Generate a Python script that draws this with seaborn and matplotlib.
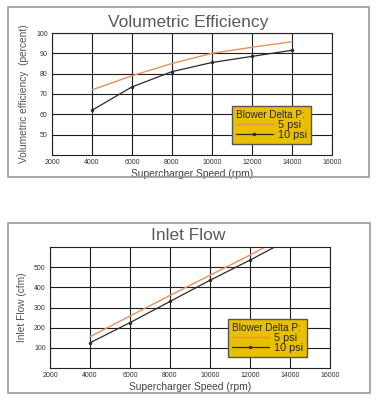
import matplotlib
matplotlib.use("Agg")
import matplotlib.pyplot as plt
import seaborn as sns
import pandas as pd
from matplotlib.lines import Line2D
from matplotlib.patches import Rectangle

# ---- data ----
speed = [4000, 6000, 8000, 10000, 12000, 14000]
ve_5psi = [72, 79, 85, 90, 93, 95.7]
ve_10psi = [62, 73.5, 81, 85.5, 88.5, 91.5]
flow_5psi = [155, 258, 360, 460, 560, 665]
flow_10psi = [125, 225, 330, 435, 535, 640]
x_ticks = [2000, 4000, 6000, 8000, 10000, 12000, 14000, 16000]
ve_ticks = [50, 60, 70, 80, 90, 100]
flow_ticks = [100, 200, 300, 400, 500]
series_labels = ["5 psi", "10 psi"]

sns.set_style("white")
plt.rcParams['font.family'] = ['Liberation Sans', 'DejaVu Sans']

W, H = 382, 400
fig = plt.figure(figsize=(W / 100, H / 100), dpi=100)

c5 = "#e8905e"
c10 = "#2a2a2a"
gold = "#e8c000"

def px_rect(l, t, r, b):
    return [l / W, 1 - b / H, (r - l) / W, (b - t) / H]

def frame(l, t, r, b):
    fig.patches.append(Rectangle((l / W, 1 - b / H), (r - l) / W, (b - t) / H,
                                 transform=fig.transFigure, fill=False,
                                 edgecolor="#9a9a9a", linewidth=1.2))

def make_panel(rect, y5, y10, ylim, yticks, title, ylabel, title_y, leg_anchor):
    ax = fig.add_axes(rect)
    df = pd.DataFrame({"speed": speed * 2,
                       "value": y5 + y10,
                       "series": [series_labels[0]] * len(speed) + [series_labels[1]] * len(speed)})
    sns.lineplot(data=df[df.series == "5 psi"], x="speed", y="value", ax=ax,
                 color=c5, linewidth=1.0, legend=False)
    sns.lineplot(data=df[df.series == "10 psi"], x="speed", y="value", ax=ax,
                 color=c10, linewidth=0.9, marker="o", markersize=2.5,
                 markeredgewidth=0, legend=False)
    ax.set_xlim(2000, 16000)
    ax.set_ylim(*ylim)
    ax.set_xticks(x_ticks)
    ax.set_yticks(yticks)
    ax.set_xticklabels([str(t) for t in x_ticks])
    ax.grid(True, color="#1e1e1e", linewidth=0.8)
    for s in ax.spines.values():
        s.set_color("#222222")
        s.set_linewidth(0.8)
    ax.tick_params(axis="both", length=0, labelsize=5.0, colors="#333333", pad=3)
    ax.set_xlabel("Supercharger Speed (rpm)", fontsize=7.4, color="#444444", labelpad=2)
    ax.set_ylabel(ylabel, fontsize=7.3, color="#555555", labelpad=5)
    fig.text(188 / W, 1 - title_y / H, title, ha="center", va="center",
             fontsize=12.5, color="#5a5a5a")
    handles = [Line2D([0], [0], color=c5, linewidth=1.0),
               Line2D([0], [0], color=c10, linewidth=0.9, marker="o", markersize=2.5,
                      markeredgewidth=0, markevery=[0, 1])]
    leg = ax.legend(handles, series_labels, title="Blower Delta P:",
                    loc="upper left", bbox_to_anchor=leg_anchor,
                    fontsize=7.8, title_fontsize=7.2, frameon=True, fancybox=False,
                    facecolor=gold, edgecolor="#555555", framealpha=1,
                    handlelength=3.4, handletextpad=0.5, borderpad=0.35,
                    labelspacing=0.0, borderaxespad=0)
    leg._legend_box.align = "left"
    leg.get_frame().set_linewidth(1.0)
    return ax

frame(8, 7, 369, 177)
frame(8, 223, 370, 393)

make_panel(px_rect(52, 33, 332, 155), ve_5psi, ve_10psi, (40, 100), ve_ticks,
           "Volumetric Efficiency", "Volumetric efficiency  (percent)", 22,
           ((232 - 52) / 280, (155 - 106) / 122))
make_panel(px_rect(50, 247, 330, 368), flow_5psi, flow_10psi, (0, 600), flow_ticks,
           "Inlet Flow", "Inlet Flow (cfm)", 236,
           ((228 - 50) / 280, (368 - 319) / 121))

fig.savefig("out.png", dpi=100)
